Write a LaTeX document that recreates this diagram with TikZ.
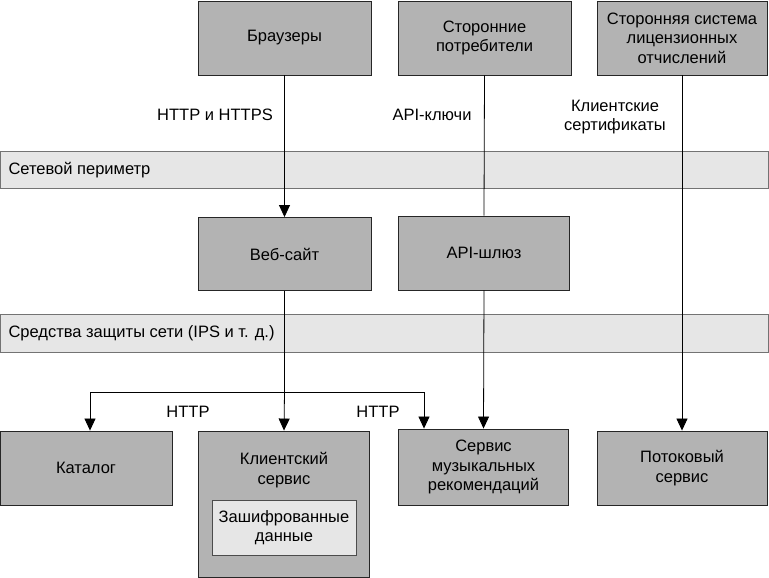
\documentclass[tikz,border=0pt]{standalone}
\usepackage{fontspec}
\setmainfont{Liberation Sans}
\usetikzlibrary{arrows.meta}
\definecolor{boxgray}{HTML}{B3B3B3}
\definecolor{bandgray}{HTML}{E6E6E6}
\begin{document}
\begin{tikzpicture}[x=1pt,y=-1pt,
  every node/.style={font=\fontsize{16.5}{19.5}\selectfont, align=center},
  box/.style={draw=black!85, line width=0.9pt, fill=boxgray, inner sep=0pt},
  inbox/.style={draw=black!70, line width=0.8pt, fill=bandgray, inner sep=0pt},
  band/.style={draw=black!55, line width=0.8pt, fill=bandgray},
  conn/.style={line width=0.8pt, black},
  arr/.style={conn, -{Triangle[width=11pt,length=12pt]}},
  lbl/.style={inner sep=1pt}]
\useasboundingbox (0,0) rectangle (769,578);

% bands
\draw[band] (0.4,151) rectangle (768.6,188);
\node[anchor=west] (per) at (5,170) {Сетевой периметр};
\draw[band] (0.4,314) rectangle (768.6,352);
\node[anchor=west] (ips) at (5,333.5) {Средства защиты сети (IPS и т. д.)};

% top boxes
\node[box, minimum width=173pt, minimum height=74pt] (br) at (284.5,38) {Браузеры};
\node[box, minimum width=173pt, minimum height=74pt] (cons) at (484.5,38) {Сторонние\\потребители};
\node[box, minimum width=170pt, minimum height=74pt] (lic) at (682,38) {Сторонняя система\\лицензионных\\отчислений};

% middle boxes
\node[box, minimum width=173pt, minimum height=73pt] (web) at (284.5,254) {Веб-сайт};
\node[box, minimum width=171pt, minimum height=74pt] (api) at (484,253) {API-шлюз};

% bottom boxes
\node[box, minimum width=172pt, minimum height=74pt] (cat) at (86,468) {Каталог};
\node[box, minimum width=171pt, minimum height=146pt] (cli) at (284,504) {};
\node (clit) at (284,470) {Клиентский\\сервис};
\node[inbox, minimum width=144pt, minimum height=55pt] (enc) at (284,527.5) {Зашифрованные\\данные};
\node[box, minimum width=170pt, minimum height=76pt] (mus) at (483.5,467) {Сервис\\музыкальных\\рекомендаций};
\node[box, minimum width=170pt, minimum height=74pt] (str) at (682,468) {Потоковый\\сервис};

% labels
\node[lbl] (l1) at (215,115) {HTTP и HTTPS};
\node[lbl] (l2) at (432,115) {API-ключи};
\node[lbl] (l3) at (615,117) {Клиентские\\сертификаты};
\node[lbl] (l4) at (188,412) {HTTP};
\node[lbl] (l5) at (378,412) {HTTP};

% connectors
\draw[arr] (br.south) -- (web.north);
\draw[conn] (cons.south) -- (api.north);
\draw[arr] (api.south) -- (mus.north);
\draw[arr] (lic.south) -- (str.north);
\coordinate (split) at (284.5,392);
\draw[conn] (web.south) -- (split);
\draw[arr] (split) -- (cli.north);
\draw[arr] (split) -| (cat.north -| 90,0);
\draw[arr] (split) -| (mus.north -| 424,0);
\end{tikzpicture}
\end{document}
